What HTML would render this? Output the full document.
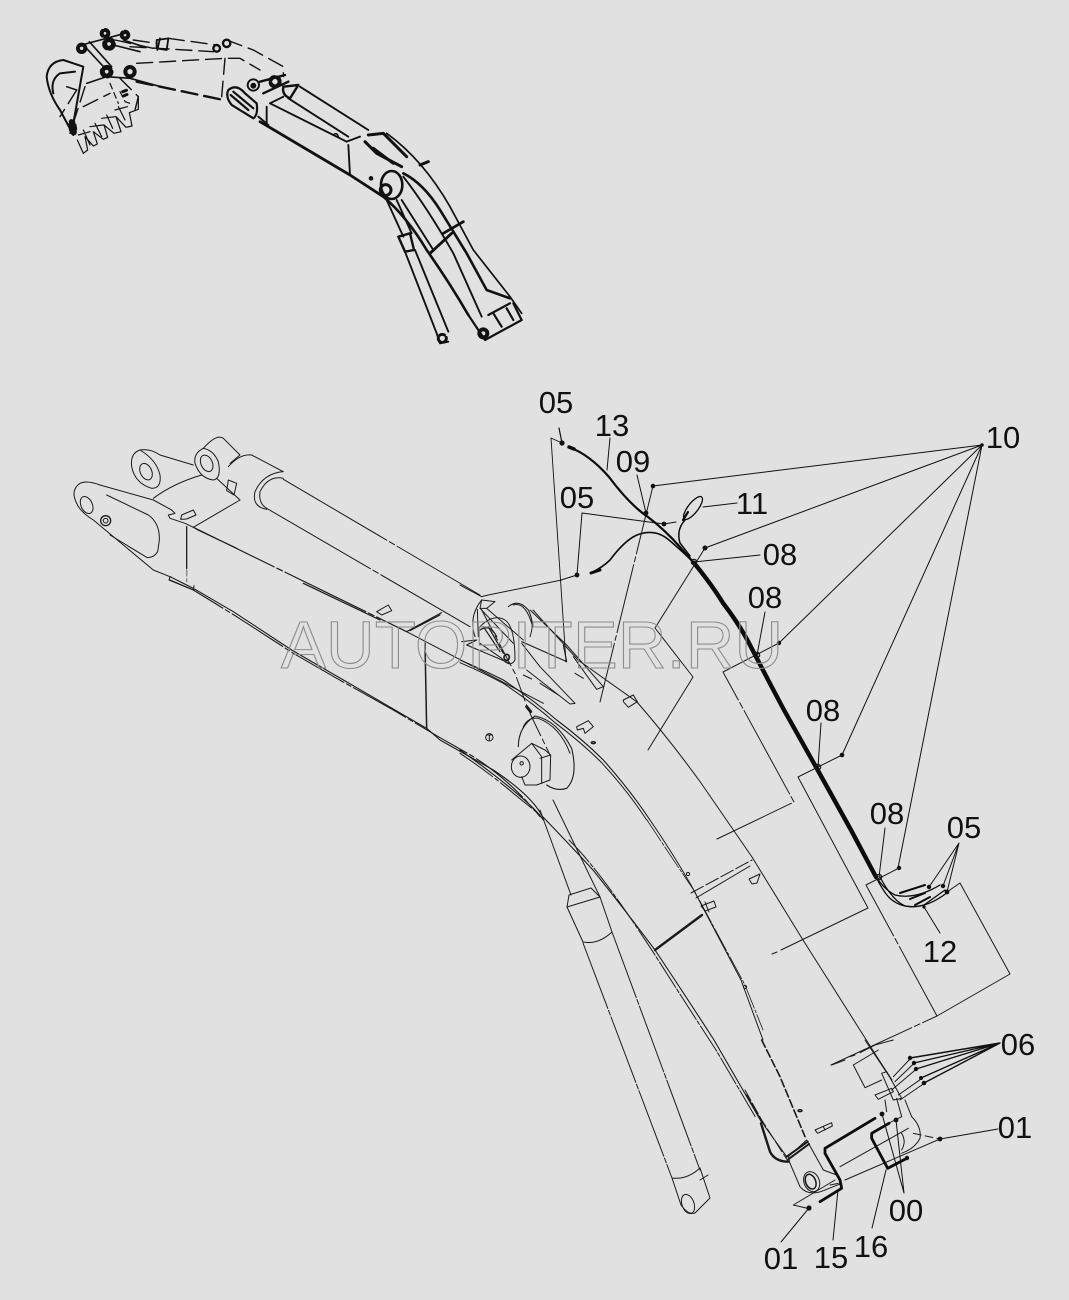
<!DOCTYPE html>
<html><head><meta charset="utf-8"><style>
html,body{margin:0;padding:0;background:#e1e1e1}
svg{display:block}
path,line,polyline,polygon,circle,ellipse{vector-effect:non-scaling-stroke}
.t{font-family:"Liberation Sans",sans-serif;font-size:31px;fill:#111;text-anchor:middle}
</style></head><body>
<svg width="1069" height="1300" viewBox="0 0 1069 1300" xmlns="http://www.w3.org/2000/svg">
<rect width="1069" height="1300" fill="#e1e1e1"/>

<!-- inset -->
<g transform="translate(40,20) scale(.33333)" fill="none" stroke="#111" stroke-width="1.2" stroke-linecap="round" stroke-linejoin="round">
<g stroke-width="1.9">
<path d="M780 200L985 330M745 235L925 350M690 250L920 365"/>
<path d="M660 305L930 465L1030 530" stroke-width="2.8"/>
<path d="M925 375L930 465M920 365L960 350"/>
<path d="M565 210Q590 190 615 220L650 250Q655 285 640 295L575 255Q555 230 565 210ZM572 225L625 270M580 215L640 265" stroke-width="2.2"/>
<path d="M655 290L685 315M680 260L680 312M690 250L730 230"/>
<circle cx="640" cy="195" r="17"/><circle cx="640" cy="197" r="6" fill="#111"/>
<path d="M730 200L775 195L750 235Q725 225 730 200ZM660 185L735 165M670 220L745 185" stroke-width="2.4"/>
<circle cx="705" cy="185" r="14" stroke-width="4" stroke-dasharray="5 3"/>
<path d="M1030 530Q1100 590 1160 690Q1230 790 1285 885" stroke-width="2.6"/>
<path d="M1090 470Q1160 560 1240 700L1325 890"/>
<path d="M1090 460Q1150 490 1200 570L1280 700L1340 810L1410 835" stroke-width="2.6"/>
<path d="M1040 340Q1150 420 1230 560L1300 690L1410 830L1445 880" stroke-width="1.7"/>
<path d="M985 345L1030 340L1100 410M975 365L1010 400L1085 440M1000 385L1060 430M1140 435L1165 425" stroke-width="3"/>
<path d="M1170 700L1235 640M1210 640L1270 605" stroke-width="2.8"/>
<path d="M1285 885L1335 960L1445 900L1420 850M1360 880L1385 920M1400 865L1420 900M1345 885L1410 850" stroke-width="2.2"/>
<circle cx="1330" cy="940" r="12" stroke-width="4"/>
<path d="M1040 540L1090 650M1070 540L1115 640M1085 540L1180 690"/>
<path d="M1075 650L1110 640L1122 690L1095 695Z" stroke-width="2.4"/>
<path d="M1095 695L1190 940M1125 690L1225 935M1190 940L1200 970L1225 965"/>
<circle cx="1207" cy="955" r="12" stroke-width="3" stroke-dasharray="5 3"/>
<circle cx="1037" cy="510" r="16" stroke-width="3"/>
<ellipse cx="1055" cy="495" rx="32" ry="42" stroke-width="2.6"/>
<circle cx="993" cy="475" r="4" fill="#111"/>
<path d="M880 345Q890 335 895 350" stroke-width="1.6"/>
</g>
<g stroke-dasharray="16 7" stroke-width="1.4">
<path d="M225 60L340 85M280 60L350 70M385 55L530 75M290 130L555 115L600 115L660 150M560 60L640 90L730 140L730 170M270 80L520 95"/>
<path d="M290 185L550 240" stroke-width="2.4"/>
<path d="M555 115L545 230"/>
<path d="M240 175L295 230L285 270"/>
<path d="M110 210L60 290M135 200L90 340M130 260L210 220"/>
</g>
<path d="M350 60L385 55L380 90L350 85ZM360 55L352 90" stroke-width="1.8"/>
<circle cx="125" cy="85" r="11" stroke-width="4"/><circle cx="207" cy="72" r="13" stroke-width="5" stroke-dasharray="6 3"/><circle cx="255" cy="45" r="10" stroke-width="4" stroke-dasharray="5 3"/><circle cx="195" cy="40" r="10" stroke-width="4" stroke-dasharray="5 3"/><circle cx="200" cy="155" r="13" stroke-width="5" stroke-dasharray="6 3"/><circle cx="270" cy="155" r="14" stroke-width="4"/><circle cx="530" cy="85" r="10" stroke-width="2.4"/><circle cx="560" cy="70" r="11" stroke-width="2.4"/>
<path d="M135 80L195 145M148 65L215 140M125 75L255 40M220 75L300 95M250 60L310 80" stroke-width="1.6"/>
<path d="M20 170Q25 125 70 120L130 140L100 310M40 220Q30 180 60 160L105 155M20 170Q25 220 60 270L100 345" stroke-width="2"/>
<path d="M140 190L200 170L270 175L380 205" stroke-width="1.6"/>
<path d="M80 200L110 210" stroke-width="1.5"/>
<ellipse cx="98" cy="322" rx="11" ry="24" fill="#111" stroke-dasharray="3 2" transform="rotate(-10 98 322)"/>
<g stroke-width="1.2">
<path d="M112 360L130 400L143 390L135 350L160 378L172 372L160 335L190 358L203 352L192 315L222 340L243 335L228 290L258 322L276 318L268 278L295 268L295 230"/>
<path d="M130 330L150 375M165 310L185 350M200 285L218 325M235 260L255 300M115 345L150 335M150 320L190 315M185 295L225 290M225 270L262 260"/>
<path d="M240 215L255 245L270 250M210 190L235 250" stroke-dasharray="6 4"/>
</g>
<path d="M248 215L262 210M250 228L265 222" stroke-width="3" stroke-dasharray="4 3"/>
</g>

<!-- left part of boom -->
<g transform="translate(60,420) scale(.33333)" fill="none" stroke="#1a1a1a" stroke-width="1" stroke-linecap="round" stroke-linejoin="round">
<path d="M50 250Q30 210 60 190Q80 180 120 195L280 240L335 270L345 280L325 285L330 295L375 310L400 322"/>
<path d="M50 250Q60 275 100 300L280 450L330 470"/>
<path d="M140 225L265 285Q300 310 298 360L293 395Q280 415 260 412L150 345"/>
<ellipse cx="80" cy="255" rx="17" ry="27" transform="rotate(-25 80 255)"/>
<circle cx="137" cy="302" r="15" stroke-width="1.3"/><circle cx="137" cy="302" r="7"/>
<path d="M280 235Q340 190 425 165M400 322L540 240"/>
<path d="M380 320L380 445" stroke-width="1.3"/>
<path d="M380 450L380 485" stroke-dasharray="6 3" stroke="#888" stroke-width="1.4"/>
<path d="M240 90Q210 100 215 140Q225 190 275 205Q305 205 300 165Q290 120 240 90ZM240 90Q270 85 300 105L400 135"/>
<ellipse cx="258" cy="155" rx="17" ry="26" transform="rotate(-25 258 155)"/>
<path d="M430 85Q400 100 405 130Q420 175 460 180Q485 175 475 125Q460 90 430 85Z"/>
<ellipse cx="440" cy="130" rx="17" ry="26" transform="rotate(-25 440 130)"/>
<path d="M430 85Q470 40 490 55L540 105L510 130"/>
<path d="M470 175L540 240"/>
<path d="M505 180L530 190L522 225L500 212Z"/>
<path d="M505 140Q540 100 575 105L670 155Q610 160 585 215Q575 260 620 268"/>
<path d="M670 175Q625 165 600 215Q595 250 620 265"/>
<path d="M670 178L1260 525M620 265L1230 620" stroke-dasharray="120 3 6 3"/>
<path d="M400 322L1040 635M410 328L530 385M730 490L960 600" stroke-width="1.2" stroke-dasharray="90 3 6 3"/>
<path d="M1040 635L1250 745L1450 850"/>
<path d="M1040 635L1145 578M1050 632L1140 585" stroke-width="1.1"/>
<path d="M1095 670L1100 925" stroke-width="1.5"/>
<path d="M330 470L400 505L520 575L695 690L1100 925L1140 960L1300 1050Q1420 1130 1450 1195" stroke-width="1.1"/>
<path d="M330 480L400 510L530 590L700 700L830 775L1000 870L1135 950L1240 1010Q1350 1080 1440 1190" stroke-width="1.1" stroke-dasharray="60 3 5 3"/>
<path d="M330 470L327 480L400 510L402 497"/>
<path d="M365 285L400 270L408 285L380 297L362 298Z"/>
<path d="M950 575L985 555L995 572L965 585Z"/>
</g>

<!-- pivot detail -->
<g transform="translate(460,580) scale(.33333)" fill="none" stroke="#1a1a1a" stroke-width="1" stroke-linecap="round" stroke-linejoin="round">
<path d="M65 60Q25 110 45 170"/>
<path d="M65 60L105 65L80 85L60 85ZM52 88L55 170"/>
<path d="M60 140Q100 100 135 120Q165 140 165 240Q150 265 125 235L60 190"/>
<path d="M60 150Q90 130 110 170M70 140L120 215M85 140L130 220" stroke-width="1.2"/>
<ellipse cx="140" cy="232" rx="8" ry="9" stroke-width="1.6"/>
<path d="M60 85L160 190M80 85L190 180"/>
<path d="M145 80Q175 55 205 90Q225 130 210 170M160 75Q195 65 215 130"/>
<path d="M210 90L320 195L430 320L410 328L340 230"/>
<path d="M185 185L320 245M310 195L320 245" stroke-width="1.1"/>
<path d="M5 185L50 180L20 195L150 250"/>
<path d="M200 270L330 372L345 370L240 260M185 190L240 260"/>
<path d="M190 285L215 297M240 310L295 345M345 280L370 295"/>
<path d="M65 90L165 280L205 390L270 525" stroke-dasharray="25 4 5 4"/>
<path d="M200 380L212 395" stroke-width="3"/>
<path d="M0 240Q70 270 130 300Q220 360 290 420Q370 480 430 540Q510 630 570 720" stroke-width="1.1"/>
<path d="M0 248Q70 278 130 310Q220 370 285 428Q365 488 425 548Q505 635 560 720" stroke-width="1"/>
<path d="M175 500Q175 440 225 408Q290 420 335 505Q355 590 320 625Q290 635 260 615" stroke-width="1.1"/>
<path d="M190 440Q205 410 235 415Q300 440 330 520"/>
<path d="M155 540L215 490L255 510L272 525L270 600L230 615L195 615L185 590"/>
<ellipse cx="182" cy="560" rx="28" ry="32"/><circle cx="185" cy="550" r="5"/>
<path d="M240 535L272 525M215 490L245 530L245 610"/>
<path d="M350 440L385 422L400 440L375 460L370 445L352 450Z"/>
<path d="M490 360L520 345L532 365L505 382L490 365Z"/>
<ellipse cx="400" cy="488" rx="6" ry="3" stroke-width="1.4"/>
<circle cx="88" cy="472" r="11"/><path d="M80 465L96 465M88 465L88 482"/>
<path d="M0 15L65 50L85 45L305 0"/>
<path d="M0 510Q100 580 170 640Q230 690 250 720" stroke-width="1.1"/>
<path d="M0 520Q90 580 160 640L240 705" stroke-dasharray="40 3 4 3"/>
</g>

<!-- end detail -->
<g transform="translate(745,1040) scale(.33333)" fill="none" stroke="#1a1a1a" stroke-width="1" stroke-linecap="round" stroke-linejoin="round">
<path d="M135 370L165 440Q190 470 235 452L290 430"/>
<path d="M185 300L130 350L135 370M185 300L235 390L275 405"/>
<path d="M125 350L188 305M130 358L192 312" stroke-width="2"/>
<ellipse cx="200" cy="425" rx="23" ry="31" transform="rotate(-22 200 425)"/>
<ellipse cx="197" cy="425" rx="15" ry="23" transform="rotate(-22 197 425)" stroke-width="1.5"/>
<path d="M285 380L490 265M300 420L585 297M255 435L280 430"/>
<path d="M145 495L270 420M145 495L188 505"/>
<path d="M505 280L585 297" stroke-dasharray="8 4"/>
<path d="M410 100L425 95L470 175L445 180Z"/>
<path d="M390 165L440 145L445 155L400 178Z"/>
<path d="M420 180L425 215M455 175L470 230L430 250M480 180L500 230Q530 260 525 295Q510 325 470 340M470 280Q485 305 470 330"/>
<path d="M445 110L495 57M450 125L505 72M440 150L513 88M460 165L527 118M465 180L535 132"/>
<path d="M325 75L360 143L410 120M325 75L400 30"/>
<path d="M260 75L300 60M315 50L330 45M345 38L390 15L445 0"/>
<path d="M360 0L440 120"/>
<path d="M50 0L105 110L180 290" stroke-dasharray="8 3" stroke-width="1.6"/>
<path d="M0 150L50 240L130 365" stroke-dasharray="12 3"/>
<path d="M5 165L60 260L125 350"/>
<path d="M48 250L75 335Q90 365 130 365" stroke-width="2.4"/>
<path d="M210 270L260 248L262 258L218 280ZM235 260L240 270"/>
<ellipse cx="165" cy="212" rx="6" ry="3" stroke-width="1.4"/>
<g stroke="#0c0c0c" stroke-width="2.8">
<path d="M390 235L240 325L240 340L285 420L290 445L225 485"/>
<path d="M432 250L380 280L380 295L428 385L485 355"/>
</g>
</g>

<g fill="none" stroke="#1a1a1a" stroke-width="1" stroke-linecap="round" stroke-linejoin="round">
<!-- boom continuing lower edge -->
<path d="M543 817Q570 845 593 870Q625 910 655 950Q685 995 714 1040Q740 1085 762 1123" stroke-width="1.1"/>
<path d="M569 840Q600 870 655 955Q690 1010 716 1050L756 1118" stroke-dasharray="30 2 4 2"/>
<!-- upper arcs -->
<path d="M650 820Q672 852 691 885L741 980L763 1040" stroke-width="1"/>
<path d="M647 820Q672 858 695 892L745 985L763 1030" stroke-width=".8" stroke-dasharray="25 2 3 2"/>
<path d="M533 610L578 660L637 702Q670 740 701 783L752 857L803 940L879 1060L892 1080"/>
<!-- cylinder -->
<path d="M540 810L571 895M553 800L600 897"/>
<path d="M569 895L591 888L600 897L567 907L569 895Z"/>
<path d="M567 907L583 942Q598 945 612 932L600 897"/>
<path d="M583 943L672 1178M612 932L700 1170" stroke-dasharray="70 2 5 2"/>
<path d="M672 1178L681 1205Q688 1215 695 1213L710 1198L700 1168M672 1178Q687 1180 700 1168M700 1180L708 1175"/>
<ellipse cx="688" cy="1204" rx="6" ry="10" transform="rotate(-20 688 1204)"/>
<!-- sections -->
<path d="M655 950L702 915" stroke-width="2.4"/>
<path d="M691 893L752 860" stroke-dasharray="14 3"/><path d="M696 898L750 866"/>
<path d="M701 906L714 901L716 907L705 911ZM705 902L709 912M749 879L760 874L757 883L752 884Z"/>
<circle cx="688" cy="874" r="1.6"/><circle cx="745" cy="987" r="1.6"/>
<!-- section lines -->
<path d="M653 486L600 702" stroke-dasharray="70 3 5 3"/>
<path d="M705 548L655 628L693 677L648 750"/>
<path d="M779 643L723 672L794 802L717 839" stroke-dasharray="95 3 6 3"/>
<path d="M842 755L798 777L868 908L781 950M772 954L777 952"/>
<path d="M899 868L866 885L937 1016L831 1065" stroke-dasharray="95 3 6 3"/>
<path d="M947 892L960 883L1010 974L937 1016"/>
<!-- leaders thin -->
<g stroke="#111" stroke-width="1">
<path d="M982 445L653 486M982 445L705 548M982 445L779 643M982 445L842 755M982 445L898 868"/>
<path d="M562 443L551 438L566 662" stroke-width=".9"/>
<path d="M559 428L562 443" stroke-width="1.2"/>
<path d="M664 524L582 513L577 575L561 580"/>
<path d="M664 524L676 522"/>
<path d="M637 475L646 513M610 438L607 470M703 507L737 503M760 555L694 562M765 612L757 655M821 723L818 767M885 828L879 877M940 933L924 907"/>
<path d="M959 843L929 887M959 843L943 886M959 843L947 892"/>
<path d="M1000 1043L910 1058M1000 1043L914 1063M1000 1043L916 1069M1000 1043L921 1078M1000 1043L924 1083" stroke-width="1.4"/>
<path d="M998 1129L940 1139"/>
<path d="M781 1242L809 1208"/>
<path d="M833 1240L838 1190M872 1228L886 1170M904 1193L882 1114M904 1193L896 1120"/>
</g>
<!-- wires -->
<g stroke="#0c0c0c">
<path d="M569 447Q590 455 609 477Q630 505 648 517Q665 530 680 547L694 563" stroke-width="2.2"/>
<path d="M694 563Q712 585 723 603Q740 625 751 647Q768 680 784 710L816 767L851 830L876 877" stroke-width="4.4"/>
<path d="M876 877Q885 895 892 900Q905 910 924 905L945 890" stroke-width="1.3"/>
<path d="M876 877Q885 890 895 895Q915 900 940 885" stroke-width="1.3"/>
<path d="M880 877Q892 900 905 906Q925 910 948 892" stroke-width="1.3"/>
<path d="M910 899L925 893M915 905L930 897M900 893L925 885" stroke-width="2"/>
<path d="M591 573Q603 567 610 560Q625 540 637 535Q655 528 669 540Q683 552 691 560" stroke-width="1.6"/>
<path d="M591 573L600 570" stroke-width="3"/>
<path d="M685 520Q676 530 680 543L690 556" stroke-width="1.5"/>
<ellipse cx="693" cy="508" rx="14" ry="5" transform="rotate(-52 693 508)" stroke-width="1.3"/>
<path d="M688 512L683 520" stroke-width="2.2"/>
<path d="M569 447L574 449" stroke-width="3.5"/>
</g>
<!-- dots -->
<g fill="#111" stroke="none">
<circle cx="653" cy="486" r="2.3"/><circle cx="705" cy="548" r="2.5"/><circle cx="779" cy="643" r="2.2"/><circle cx="842" cy="755" r="2.3"/><circle cx="899" cy="868" r="2.2"/>
<circle cx="562" cy="443" r="2.6"/><circle cx="664" cy="524" r="2.4"/><circle cx="577" cy="575" r="2.4"/><circle cx="646" cy="513" r="2.4"/>
<circle cx="929" cy="887" r="2.2"/><circle cx="943" cy="886" r="2.2"/><circle cx="947" cy="892" r="2.4"/><circle cx="924" cy="907" r="1.6"/>
<circle cx="910" cy="1058" r="2.2"/><circle cx="914" cy="1063" r="2.2"/><circle cx="916" cy="1069" r="2.2"/><circle cx="921" cy="1078" r="2"/><circle cx="924" cy="1083" r="2.3"/>
<circle cx="940" cy="1139" r="2.4"/><circle cx="809" cy="1208" r="2.6"/><circle cx="882" cy="1114" r="2.4"/><circle cx="896" cy="1120" r="2.4"/><circle cx="907" cy="1158" r="2.2"/>
<circle cx="982" cy="445" r="1.8"/>
</g>
<circle cx="694" cy="562" r="2.6" fill="none" stroke-width="1.4"/><circle cx="757" cy="655" r="2.6" fill="none" stroke-width="1.4"/><circle cx="818" cy="767" r="2.6" fill="none" stroke-width="1.4"/><circle cx="879" cy="877" r="2.6" fill="none" stroke-width="1.4"/>
</g>

<!-- watermark -->
<text x="281" y="668" font-family="Liberation Sans, sans-serif" font-size="67" textLength="502" lengthAdjust="spacing" fill="none" stroke="#8c8c8c" stroke-width="1.1">AUTOPITER.RU</text>

<!-- labels -->
<g class="labels">
<text class="t" x="556" y="413">05</text>
<text class="t" x="612" y="436">13</text>
<text class="t" x="633" y="472">09</text>
<text class="t" x="577" y="508">05</text>
<text class="t" x="1003" y="448">10</text>
<text class="t" x="752" y="514">11</text>
<text class="t" x="780" y="565">08</text>
<text class="t" x="765" y="608">08</text>
<text class="t" x="823" y="721">08</text>
<text class="t" x="887" y="824">08</text>
<text class="t" x="964" y="838">05</text>
<text class="t" x="940" y="962">12</text>
<text class="t" x="1018" y="1055">06</text>
<text class="t" x="1015" y="1138">01</text>
<text class="t" x="906" y="1221">00</text>
<text class="t" x="871" y="1257">16</text>
<text class="t" x="831" y="1268">15</text>
<text class="t" x="781" y="1269">01</text>
</g>
</svg>
</body></html>
